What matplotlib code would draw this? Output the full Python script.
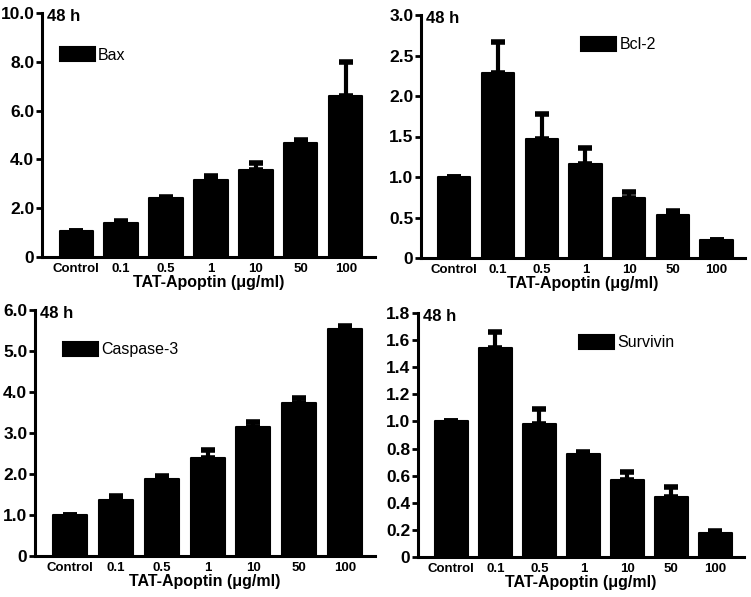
import numpy as np
import matplotlib.pyplot as plt

# Datos (48 h)
dosis = ["Control", "0.1", "0.5", "1", "10", "50", "100"]

bax = [1.05, 1.41, 2.40, 3.15, 3.56, 4.67, 6.59]
bax_err = [0.0, 0.08, 0.07, 0.17, 0.30, 0.11, 1.41]

bcl2 = [1.00, 2.29, 1.47, 1.16, 0.74, 0.53, 0.22]
bcl2_err = [0.0, 0.38, 0.31, 0.20, 0.07, 0.05, 0.0]

casp3 = [1.00, 1.37, 1.88, 2.39, 3.15, 3.72, 5.54]
casp3_err = [0.0, 0.09, 0.07, 0.20, 0.13, 0.13, 0.08]

surv = [1.00, 1.54, 0.98, 0.76, 0.57, 0.44, 0.18]
surv_err = [0.0, 0.12, 0.11, 0.015, 0.06, 0.08, 0.01]

paneles = [
    # (valores, errores, nombre, ticks, etiquetas, posicion, leyenda)
    (bax, bax_err, "Bax", [0, 2, 4, 6, 8, 10], ["0", "2.0", "4.0", "6.0", "8.0", "10.0"],
     [42 / 751, 340 / 597, 333 / 751, 244 / 597], (0.01, 0.92)),
    (bcl2, bcl2_err, "Bcl-2", [0, 0.5, 1, 1.5, 2, 2.5, 3], ["0", "0.5", "1.0", "1.5", "2.0", "2.5", "3.0"],
     [421 / 751, 339 / 597, 324 / 751, 243 / 597], (0.45, 0.97)),
    (casp3, casp3_err, "Caspase-3", [0, 1, 2, 3, 4, 5, 6], ["0", "1.0", "2.0", "3.0", "4.0", "5.0", "6.0"],
     [35 / 751, 41 / 597, 340 / 751, 246 / 597], (0.04, 0.93)),
    (surv, surv_err, "Survivin", [0, 0.2, 0.4, 0.6, 0.8, 1.0, 1.2, 1.4, 1.6, 1.8],
     ["0", "0.2", "0.4", "0.6", "0.8", "1.0", "1.2", "1.4", "1.6", "1.8"],
     [418 / 751, 40 / 597, 326 / 751, 244 / 597], (0.45, 0.97)),
]

fuente = ["Liberation Sans Narrow", "Liberation Sans", "DejaVu Sans"]
plt.rcParams["font.family"] = fuente

fig = plt.figure(figsize=(7.51, 5.97), dpi=100)
x = np.arange(len(dosis))

for valores, errores, nombre, ticks, etiquetas, pos, ley in paneles:
    ax = fig.add_axes(pos)
    ax.bar(x, valores, width=0.74, color="black", edgecolor="black",
           linewidth=1.5, joinstyle="round", label=nombre, zorder=2)
    ax.errorbar(x, valores, yerr=[np.zeros(len(x)), errores], fmt="none",
                ecolor="black", elinewidth=3, capsize=5, capthick=4, zorder=1)
    ax.set_xlim(-0.76, 6.65)
    ax.set_ylim(0, ticks[-1])
    ax.set_yticks(ticks)
    ax.set_yticklabels(etiquetas, fontsize=12.5, fontweight="bold")
    ax.set_xticks(x)
    ax.set_xticklabels(dosis, fontsize=9.5, fontweight="bold", family=["Liberation Sans", "DejaVu Sans"])
    ax.tick_params(axis="x", length=0, pad=4)
    ax.tick_params(axis="y", length=4, width=2, pad=1.5)
    for s in ["top", "right"]:
        ax.spines[s].set_visible(False)
    for s in ["left", "bottom"]:
        ax.spines[s].set_linewidth(2.2)
    ax.set_xlabel("TAT-Apoptin (μg/ml)", fontsize=11.5, fontweight="bold",
                  family=["Liberation Sans", "DejaVu Sans"], labelpad=0.5)
    ax.text(0.015, 0.985, "48 h", transform=ax.transAxes, va="center", ha="left",
            fontsize=12, fontweight="bold")
    ax.legend(loc="upper left", bbox_to_anchor=ley, frameon=False,
              prop={"family": ["Liberation Sans", "DejaVu Sans"], "size": 11.5},
              handlelength=2.2, handleheight=1.0, handletextpad=0.2)

fig.savefig("out.png", dpi=100)
